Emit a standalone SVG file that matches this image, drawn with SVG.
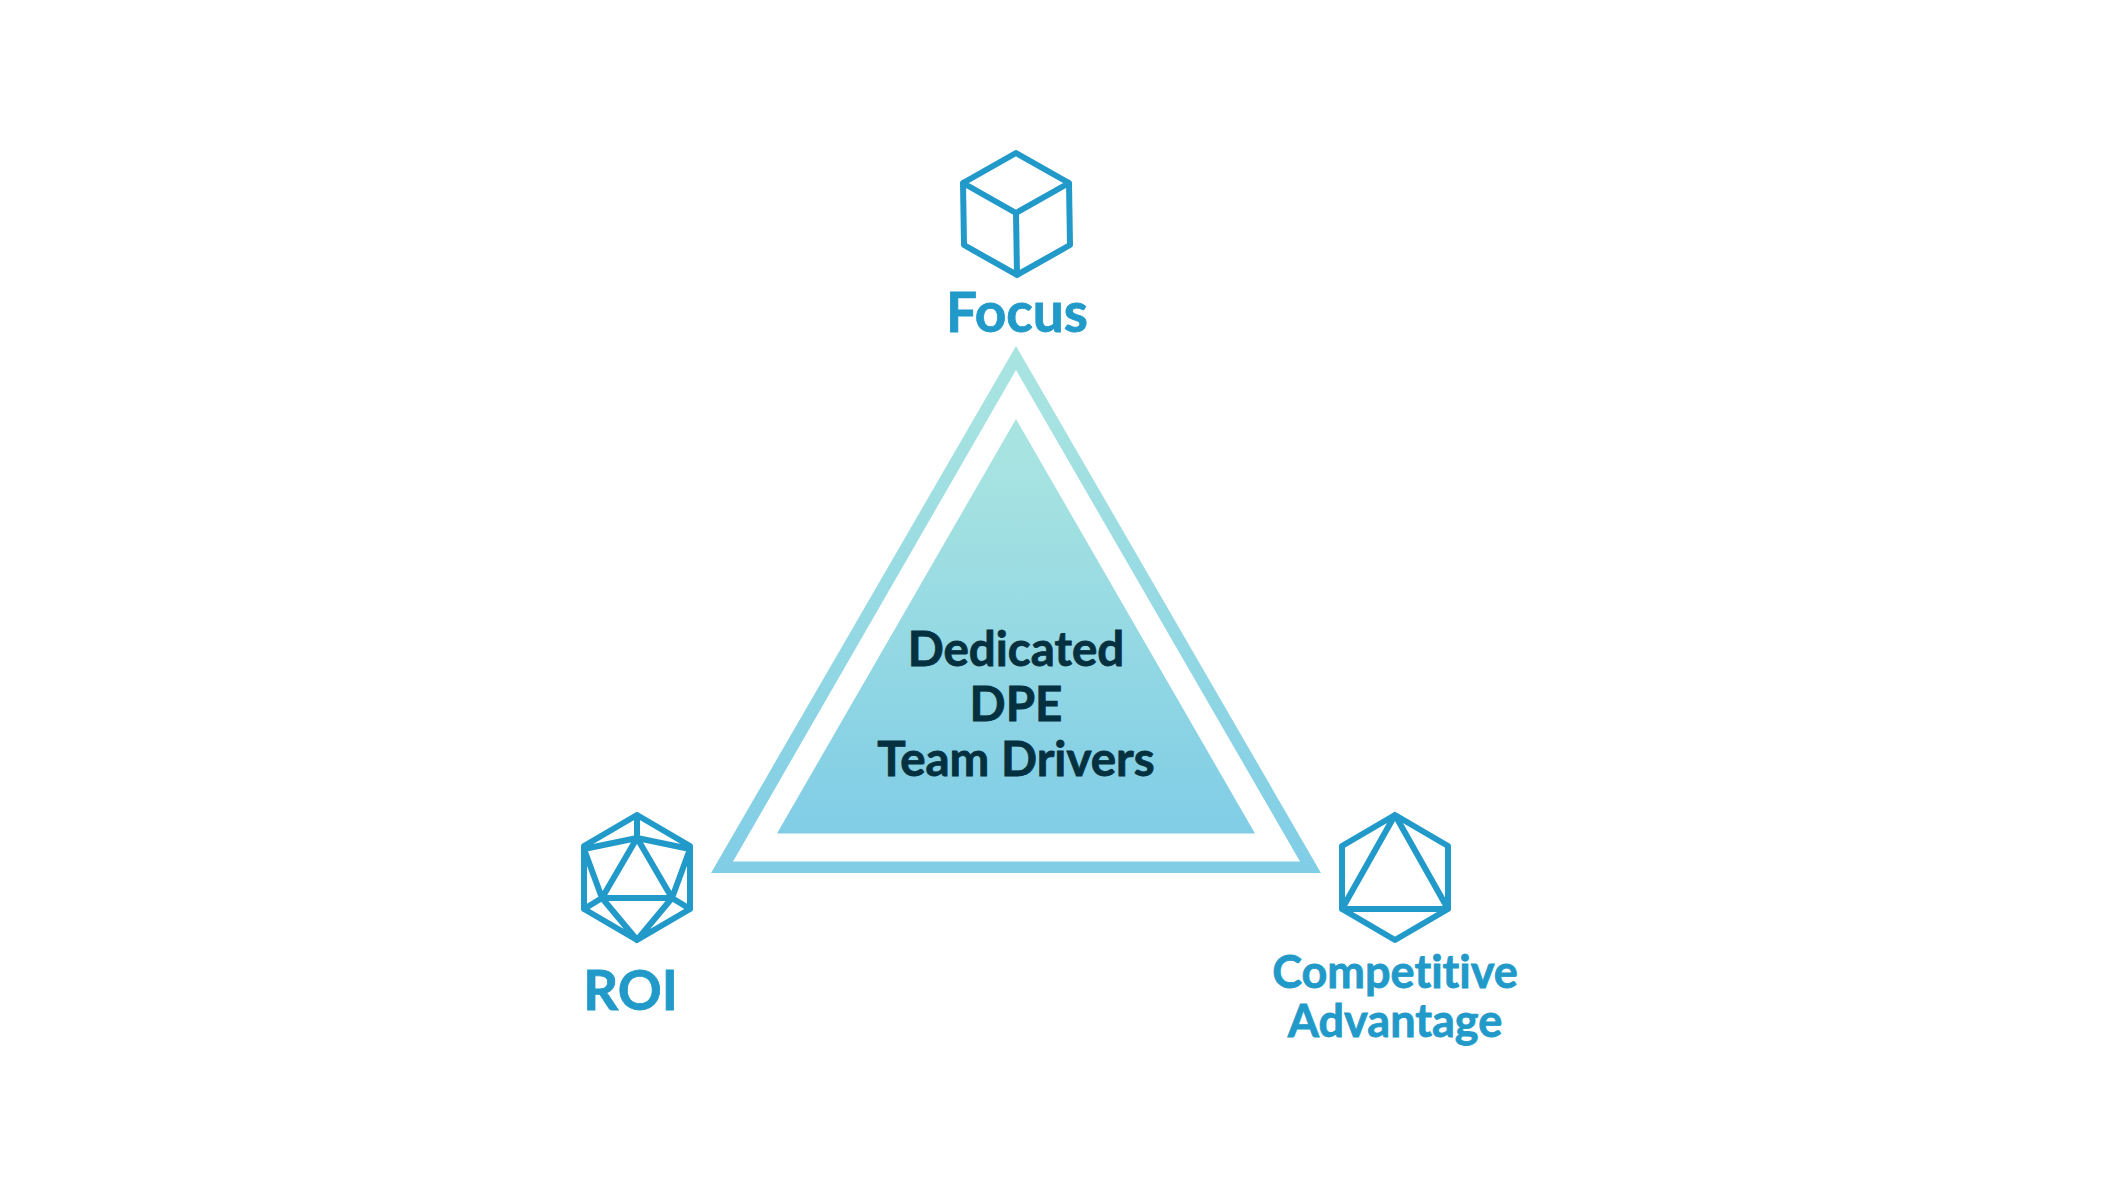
<svg xmlns="http://www.w3.org/2000/svg" width="2101" height="1201" viewBox="0 0 2101 1201">
<style>
.ic{fill:none;stroke:#219ac9;stroke-width:6;stroke-linejoin:round;stroke-linecap:round}
text{font-family:Lato,"Open Sans","Liberation Sans",sans-serif;font-weight:700;text-anchor:middle;font-variant-ligatures:none}
.lb{fill:#219ac9;stroke:#219ac9;stroke-width:.8}
.ct{fill:#04303f;stroke:#04303f;stroke-width:.8;font-size:47.500px}
</style>
<defs>
<linearGradient id="g" x1="0" y1="0" x2="0" y2="1">
<stop offset="0" stop-color="#a8e4e0"/><stop offset="0.15" stop-color="#a5e2e1"/><stop offset="1" stop-color="#80cde6"/>
</linearGradient>
</defs>
<rect width="2101" height="1201" fill="#fff"/>
<g id="triangle">
<path fill="url(#g)" fill-rule="evenodd" d="M1016 346L1321 873H711Z M1016 370L733 861.500H1300Z"/>
<path fill="url(#g)" d="M1016 419L1255 833.500H777Z"/>
<text class="ct" x="1016" y="666">Dedicated</text>
<text class="ct" x="1016" y="721">DPE</text>
<text class="ct" x="1016" y="776">Team Drivers</text>
</g>
<g id="focus">
<path class="ic" d="M1016 153L963 183L964 245L1017 275L1070 245L1069 183ZM963 183L1016 213L1069 183M1016 213L1017 275"/>
<text class="lb" x="1017" y="332" font-size="55">Focus</text>
</g>
<g id="roi">
<path class="ic" d="M637 815L584 846V909L637 940L690 909V846ZM637 815V838M584 849L637 838L690 849M637 838L602 898H672ZM584 849L602 898L584 909M690 849L672 898L690 909M602 898L637 940L672 898"/>
<text class="lb" x="630.500" y="1010" font-size="54.500">ROI</text>
</g>
<g id="competitive">
<path class="ic" d="M1395 815L1342 846V909L1395 940L1448 909V846ZM1342 909L1395 815L1448 909Z"/>
<text class="lb" x="1395" y="988" font-size="45">Competitive</text>
<text class="lb" x="1395" y="1037" font-size="45">Advantage</text>
</g>
</svg>
